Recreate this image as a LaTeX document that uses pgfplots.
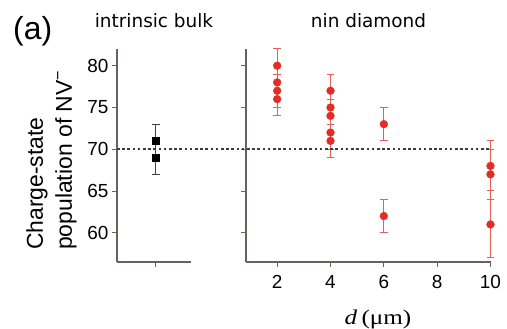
\documentclass[border=0pt]{standalone}
\usepackage{pgfplots}
\pgfplotsset{compat=1.18}
\usepackage{pgfplotstable}
\usepackage{graphicx}
\usepackage{fontspec}
\setmainfont{Liberation Sans}
\newfontfamily\titlefont{DejaVu Sans}
\newfontfamily\seriffont{Liberation Serif}
\definecolor{axisgray}{RGB}{105,96,96}
\definecolor{ptred}{RGB}{228,44,34}
\definecolor{errred}{RGB}{226,96,86}
\definecolor{dotgray}{RGB}{60,60,60}

\pgfplotstableread{
x y e
0 71 2
0 69 2
}\bulk
\pgfplotstableread{
x y e
2 80 2
2 78 2
2 77 2
2 76 2
4 77 2
4 75 2
4 74 2
4 72 2
4 71 2
6 73 2
6 62 2
10 68 3
10 67 3
10 61 4
}\nin

\pgfplotsset{
  panel/.style={
    scale only axis, height=213bp,
    ymin=56.5, ymax=82, ytick={60,65,70,75,80},
    axis x line*=bottom, axis y line*=left,
    axis line style={-, axisgray, line width=1.1bp},
    tick style={axisgray, line width=1bp},
    major tick length=5bp, tick align=outside,
    tick label style={font=\fontsize{19}{19}\selectfont},
    xticklabel style={yshift=-5bp},
    /pgf/number format/assume math mode=true,
    title style={font=\titlefont\fontsize{18.5}{18.5}\selectfont, at={(0.5,1)}, anchor=base, yshift=16bp},
    clip=false,
  }
}

\begin{document}
\begin{tikzpicture}
\begin{axis}[panel, at={(0bp,0bp)}, anchor=south west,
  width=74bp, xmin=-1, xmax=0.9, xtick={0}, xticklabels={},
  title={intrinsic bulk}]
\addplot[only marks, mark=square*, mark size=3.3bp, color=black,
  error bars/.cd, y dir=both, y explicit,
  error bar style={black!75, line width=1bp},
  error mark options={black!75, line width=1bp, mark size=3.6bp, rotate=90}]
  table[x=x, y=y, y error=e] {\bulk};
\coordinate (L70) at (axis cs:-1,70);
\end{axis}
\begin{axis}[panel, at={(129bp,0bp)}, anchor=south west,
  width=245bp, xmin=0.83, xmax=10.02, xtick={2,4,6,8,10}, yticklabels={},
  title={nin diamond}]
\addplot[only marks, mark=*, mark size=3.9bp, color=ptred,
  error bars/.cd, y dir=both, y explicit,
  error bar style={errred, line width=1bp},
  error mark options={errred, line width=1bp, mark size=3.8bp, rotate=90}]
  table[x=x, y=y, y error=e] {\nin};
\coordinate (R70) at (axis cs:10.02,70);
\end{axis}
\draw[dotgray, line width=1.5bp, dash pattern=on 2.6bp off 2.6bp] (L70) -- (R70);
% labels
\node[anchor=base west, inner sep=0pt, font=\fontsize{32}{32}\selectfont] at (-104bp,222bp) {(a)};
\node[rotate=90, anchor=base west, inner sep=0pt, font=\fontsize{23}{23}\selectfont] at (-74bp,12bp) {Charge-state};
\node[rotate=90, anchor=base west, inner sep=0pt, font=\fontsize{23}{23}\selectfont] at (-45bp,12bp) {population of NV\textsuperscript{−}};
\node[anchor=base, inner sep=0pt, font=\seriffont\fontsize{21}{21}\selectfont] at (261bp,-62bp) {\scalebox{1.2}[1]{\textit{d}\,(μm)}};
\pgfresetboundingbox
\useasboundingbox (-117bp,-67bp) rectangle (390bp,262bp);
\end{tikzpicture}
\end{document}
